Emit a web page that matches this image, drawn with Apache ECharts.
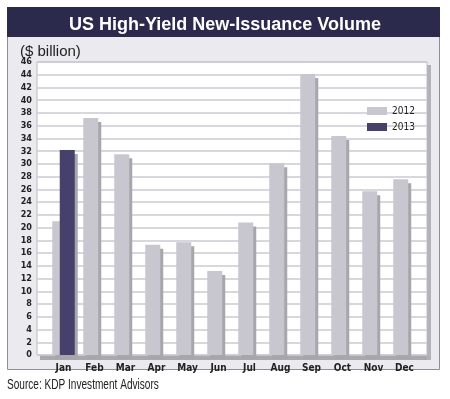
<!DOCTYPE html>
<html>
<head>
<meta charset="utf-8">
<script src="https://cdn.jsdelivr.net/npm/echarts@6/dist/echarts.min.js"></script>
<style>
  html, body { margin: 0; padding: 0; background: #fff; }
  #chart { width: 450px; height: 399px; }
</style>
</head>
<body>
<div id="chart"></div>
<script>
// 月份
const months = ['Jan', 'Feb', 'Mar', 'Apr', 'May', 'Jun', 'Jul', 'Aug', 'Sep', 'Oct', 'Nov', 'Dec']
// 2012 volume ($ billion)
const vol2012 = [21.0, 37.2, 31.5, 17.3, 17.7, 13.2, 20.8, 30.1, 44.1, 34.4, 25.7, 27.6]
// 2013 volume, only January so far
const vol2013 = [32.2, '-', '-', '-', '-', '-', '-', '-', '-', '-', '-', '-']
const yMin = 0
const yMax = 46
const yStep = 2

const sans = "'Liberation Sans', Arial, sans-serif"
const narrow = "'Liberation Sans Narrow', 'DejaVu Sans Condensed', 'Liberation Sans', sans-serif"
const textColor = '#222222'
const shadow = {
  shadowColor: '#a7a6ac',
  shadowOffsetX: 3,
  shadowOffsetY: 4,
  shadowBlur: 0
}

let myChart = echarts.init(document.getElementById('chart'))
let option = {
  animation: false,
  backgroundColor: '#ffffff',
  graphic: [
    // 外框
    { type: 'rect', z: -10, shape: { x: 7.5, y: 36.5, width: 432, height: 333 },
      style: { fill: '#ebeaef', stroke: '#8f8e98', lineWidth: 1 } },
    // 标题栏
    { type: 'rect', z: -9, shape: { x: 7, y: 7, width: 433, height: 30 },
      style: { fill: '#2b2a4d' } },
    // floor and wall shading
    { type: 'rect', z: -1, shape: { x: 40, y: 355, width: 391, height: 5 },
      style: { fill: '#a9a8ae' } },
    { type: 'rect', z: -1, shape: { x: 427, y: 65, width: 4, height: 295 },
      style: { fill: '#b3b2b8' } },
    // source note, squeezed to look condensed
    { type: 'text', x: 7, y: 378, scaleX: 0.72,
      style: { text: 'Source: KDP Investment Advisors', fill: textColor, font: '14px ' + sans } }
  ],
  title: [
    {
      text: 'US High-Yield New-Issuance Volume',
      left: 'center',
      top: 11,
      textStyle: { color: '#ffffff', fontSize: 18, fontWeight: 'bold', fontFamily: sans }
    },
    {
      text: '($ billion)',
      left: 15,
      top: 39,
      textStyle: { color: textColor, fontSize: 15, fontWeight: 'normal', fontFamily: sans }
    }
  ],
  legend: {
    data: ['2012', '2013'],
    orient: 'vertical',
    left: 362,
    top: 101,
    itemWidth: 20,
    itemHeight: 8,
    itemGap: 6,
    icon: 'rect',
    textStyle: { color: textColor, fontSize: 10, fontFamily: narrow }
  },
  grid: [
    { left: 37, right: 23, top: 62, bottom: 44, show: true, backgroundColor: '#ffffff', borderColor: '#bcbbc2', borderWidth: 1 },
    { left: 48, right: 30, top: 62, bottom: 44 }
  ],
  xAxis: [
    { gridIndex: 0, type: 'category', data: months, show: false },
    {
      gridIndex: 1,
      type: 'category',
      data: months,
      axisLine: { show: false },
      axisTick: { show: false },
      axisLabel: { color: textColor, fontSize: 10, fontWeight: 'bold', fontFamily: narrow, margin: 8 }
    }
  ],
  yAxis: [
    {
      gridIndex: 0,
      type: 'value',
      min: yMin,
      max: yMax,
      interval: yStep,
      axisLine: { show: false },
      axisTick: { show: false },
      axisLabel: { color: textColor, fontSize: 9, fontWeight: 'bold', fontFamily: narrow, margin: 5 },
      splitLine: { show: true, lineStyle: { color: '#cbcad2', width: 1.5 } }
    },
    { gridIndex: 1, type: 'value', min: yMin, max: yMax, interval: yStep, show: false, splitLine: { show: false } }
  ],
  series: [
    {
      name: '2012',
      type: 'bar',
      xAxisIndex: 1,
      yAxisIndex: 1,
      barWidth: 15,
      barGap: '-50%',
      itemStyle: Object.assign({ color: '#c8c7cf' }, shadow),
      data: vol2012
    },
    {
      name: '2013',
      type: 'bar',
      xAxisIndex: 1,
      yAxisIndex: 1,
      barWidth: 15,
      itemStyle: Object.assign({ color: '#45416b' }, shadow),
      data: vol2013
    }
  ]
}

option && myChart.setOption(option)
</script>
</body>
</html>
